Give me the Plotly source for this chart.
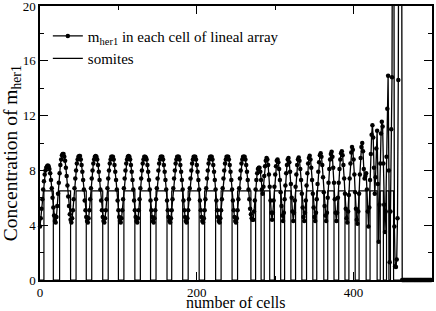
import plotly.graph_objects as go

# ---------------- data ----------------
cells = list(range(500))

m_her1 = [
    # 0-19
    3.9, 4.5, 5.2, 5.9, 6.6, 7.2, 7.7, 8.0, 8.2, 8.3, 8.35, 8.3, 8.1, 7.8, 7.3, 6.7, 6.0, 5.3, 4.7, 4.3,
    # 20-39
    4.2, 4.6, 5.4, 6.3, 7.1, 7.8, 8.4, 8.8, 9.1, 9.2, 9.2, 9.0, 8.7, 8.2, 7.6, 6.9, 6.1, 5.4, 4.8, 4.4,
    # 40-60
    4.2, 4.5, 5.1, 5.9, 6.7, 7.4, 8.0, 8.5, 8.8, 9.0, 9.05, 9.05, 8.8, 8.4, 7.9, 7.3, 6.6, 5.8, 5.1, 4.6, 4.3,
    # 61-81
    4.2, 4.5, 5.1, 5.9, 6.7, 7.4, 8.0, 8.5, 8.8, 9.0, 9.05, 9.0, 8.8, 8.4, 7.9, 7.3, 6.6, 5.8, 5.1, 4.6, 4.3,
    # 82-102
    4.2, 4.5, 5.1, 5.9, 6.7, 7.4, 8.0, 8.5, 8.8, 9.0, 9.0, 9.0, 8.8, 8.4, 7.9, 7.3, 6.6, 5.8, 5.1, 4.6, 4.3,
    # 103-123
    4.2, 4.5, 5.1, 5.9, 6.7, 7.4, 8.0, 8.5, 8.8, 9.0, 9.05, 9.0, 8.8, 8.4, 7.9, 7.3, 6.6, 5.8, 5.1, 4.6, 4.3,
    # 124-144
    4.2, 4.5, 5.1, 5.9, 6.7, 7.4, 8.0, 8.5, 8.8, 9.0, 9.0, 8.95, 8.8, 8.4, 7.9, 7.3, 6.6, 5.8, 5.1, 4.6, 4.3,
    # 145-165
    4.2, 4.5, 5.1, 5.9, 6.7, 7.4, 8.0, 8.5, 8.8, 9.0, 9.0, 9.0, 8.8, 8.4, 7.9, 7.3, 6.6, 5.8, 5.1, 4.6, 4.3,
    # 166-186
    4.2, 4.5, 5.1, 5.9, 6.7, 7.4, 8.0, 8.5, 8.8, 9.0, 9.0, 9.0, 8.8, 8.4, 7.9, 7.3, 6.6, 5.8, 5.1, 4.6, 4.3,
    # 187-207
    4.2, 4.5, 5.1, 5.9, 6.7, 7.4, 8.0, 8.5, 8.8, 9.0, 9.0, 9.0, 8.8, 8.4, 7.9, 7.3, 6.6, 5.8, 5.1, 4.6, 4.3,
    # 208-228
    4.2, 4.5, 5.1, 5.9, 6.7, 7.4, 8.0, 8.5, 8.8, 9.0, 9.0, 9.0, 8.8, 8.4, 7.9, 7.3, 6.6, 5.8, 5.1, 4.6, 4.3,
    # 229-249
    4.2, 4.5, 5.1, 5.9, 6.7, 7.4, 8.0, 8.5, 8.8, 9.0, 9.0, 9.0, 8.8, 8.4, 7.9, 7.3, 6.6, 5.8, 5.1, 4.6, 4.3,
    # 250-271
    4.2, 4.5, 5.1, 5.9, 6.7, 7.4, 8.0, 8.5, 8.8, 9.0, 9.0, 9.0, 8.8, 8.4, 7.9, 7.3, 6.6, 5.9, 5.2, 4.8, 4.5, 4.4,
    # 272-295
    4.4, 5.0, 5.8, 6.6, 7.3, 7.8, 8.1, 8.2, 8.2, 7.9, 7.3, 6.6, 6.3, 6.8, 7.6, 8.3, 8.7, 8.9, 8.8, 8.4, 7.7, 6.8, 5.8, 4.9,
    # 296-309
    4.4, 4.9, 5.8, 6.8, 7.7, 8.3, 8.7, 8.8, 8.6, 8.1, 7.3, 6.4, 5.4, 4.7,
    # 310-322
    4.3, 4.9, 5.9, 6.9, 7.8, 8.4, 8.8, 8.9, 8.6, 7.9, 7.0, 6.0, 5.0,
    # 323-336
    4.3, 4.9, 5.8, 6.8, 7.7, 8.4, 8.8, 8.95, 8.7, 8.1, 7.3, 6.3, 5.3, 4.6,
    # 337-350
    4.3, 4.9, 5.8, 6.9, 7.8, 8.5, 8.9, 9.07, 8.8, 8.2, 7.3, 6.3, 5.3, 4.6,
    # 351-364
    4.3, 4.9, 5.9, 7.0, 7.9, 8.6, 9.1, 9.25, 9.0, 8.4, 7.5, 6.4, 5.4, 4.7,
    # 365-377
    4.3, 4.9, 6.0, 7.1, 8.1, 8.8, 9.2, 9.37, 9.0, 8.2, 7.1, 5.9, 4.9,
    # 378-391
    4.3, 4.9, 6.0, 7.1, 8.1, 8.8, 9.25, 9.4, 9.1, 8.4, 7.4, 6.3, 5.2, 4.5,
    # 392-404
    4.2, 5.0, 6.2, 7.4, 8.5, 9.3, 9.7, 9.5, 8.8, 7.7, 6.4, 5.2, 4.4,
    # 405-418
    4.1, 5.0, 6.3, 7.7, 8.9, 9.7, 10.0, 9.4, 8.1, 7.4, 7.6, 7.8, 6.6, 5.0,
    # 419-431
    3.9, 5.3, 7.3, 9.2, 10.6, 11.3, 10.4, 8.2, 6.3, 7.5, 9.6, 10.9, 7.0,
    # 432-445
    2.8, 5.5, 8.5, 10.7, 11.55, 11.2, 8.5, 5.5, 3.5, 5.0, 9.0, 12.5, 14.9, 8.0,
    # 446-461
    1.3, 5.0, 11.0, 14.8, 40.0, 40.0, 3.9, 1.0, 0.95, 1.5, 4.5, 14.6, 40.0, 40.0, 40.0, 40.0,
    # 462-499
    0, 0, 0, 0, 0, 0, 0, 0, 0, 0, 0, 0, 0, 0, 0, 0, 0, 0, 0,
    0, 0, 0, 0, 0, 0, 0, 0, 0, 0, 0, 0, 0, 0, 0, 0, 0, 0, 0,
]

# somites: level starting at each edge (step function)
somite_edges = [0, 5, 17, 25, 39, 46, 59, 66, 80, 87, 100, 107, 121, 128, 141, 148,
                162, 168, 182, 189, 203, 210, 224, 231, 245, 252, 269, 275, 282, 286,
                293, 299, 307, 312, 320, 326, 334, 340, 348, 353, 362, 367, 375, 381,
                389, 394, 402, 407, 416, 421, 430, 434, 438, 442, 445, 447, 451, 499]
somite_levels = [0, 6.5, 0, 6.5, 0, 6.5, 0, 6.5, 0, 6.5, 0, 6.5, 0, 6.5, 0, 6.5,
                 0, 6.5, 0, 6.5, 0, 6.5, 0, 6.5, 0, 6.5, 0, 6.5, 0, 6.5,
                 0, 6.5, 0, 6.5, 0, 6.5, 0, 6.5, 0, 6.5, 0, 6.5, 0, 6.5,
                 0, 6.5, 0, 6.5, 0, 6.5, 0, 6.5, 0, 6.5, 0, 6.5, 0, 0]

x_ticks = [0, 200, 400]
y_ticks = [0, 4, 8, 12, 16, 20]

# ---------------- figure ----------------
fig = go.Figure()
fig.add_trace(go.Scatter(
    x=cells, y=m_her1, mode="lines+markers",
    name="m<sub>her1</sub> in each cell of lineal array",
    line=dict(color="black", width=1.3),
    marker=dict(color="black", size=4.5),
    cliponaxis=False,
))
fig.add_trace(go.Scatter(
    x=somite_edges, y=somite_levels, mode="lines", line_shape="hv",
    name="somites", line=dict(color="black", width=1.2),
))

serif = "Liberation Serif"
fig.update_layout(
    width=436, height=311,
    margin=dict(l=40, r=4, t=6, b=31, autoexpand=False),
    paper_bgcolor="white", plot_bgcolor="white",
    font=dict(family=serif, color="black", size=13),
    showlegend=True,
    legend=dict(x=0.02, y=0.95, xanchor="left", yanchor="top",
                bgcolor="rgba(0,0,0,0)", font=dict(size=15), itemwidth=30,
                tracegroupgap=0),
    annotations=[
        dict(text="Concentration of m<sub>her1</sub>", textangle=-90,
             xref="paper", yref="paper", x=-0.071, y=0.4635,
             xanchor="center", yanchor="middle", showarrow=False,
             font=dict(size=19.5, family=serif, color="black")),
        dict(text="number of cells",
             xref="paper", yref="paper", x=0.5, y=-0.083,
             xanchor="center", yanchor="middle", showarrow=False,
             font=dict(size=16, family=serif, color="black")),
    ],
)
fig.update_xaxes(
    range=[0, 500], tickmode="array", tickvals=x_ticks, ticktext=[str(v) for v in x_ticks],
    ticks="inside", ticklen=8, tickwidth=1, tickcolor="black",
    minor=dict(dtick=100, tick0=0, ticks="inside", ticklen=4, tickwidth=1, tickcolor="black"),
    showline=True, linecolor="black", linewidth=1.5, mirror="allticks",
    showgrid=False, zeroline=False, tickfont=dict(size=13), automargin=False,
    ticklabeloverflow="allow",
)
fig.update_yaxes(
    range=[0, 20], tickmode="array", tickvals=y_ticks, ticktext=[str(v) for v in y_ticks],
    ticks="inside", ticklen=8, tickwidth=1, tickcolor="black",
    minor=dict(dtick=2, tick0=0, ticks="inside", ticklen=4, tickwidth=1, tickcolor="black"),
    showline=True, linecolor="black", linewidth=1.5, mirror="allticks",
    showgrid=False, zeroline=False, tickfont=dict(size=13), automargin=False,
    ticklabeloverflow="allow",
)

fig.write_html(
    "out.html",
    config={"displayModeBar": False},
    post_script="document.body.style.margin='0';document.body.style.padding='0';"
                "document.documentElement.style.overflow='hidden';",
)
